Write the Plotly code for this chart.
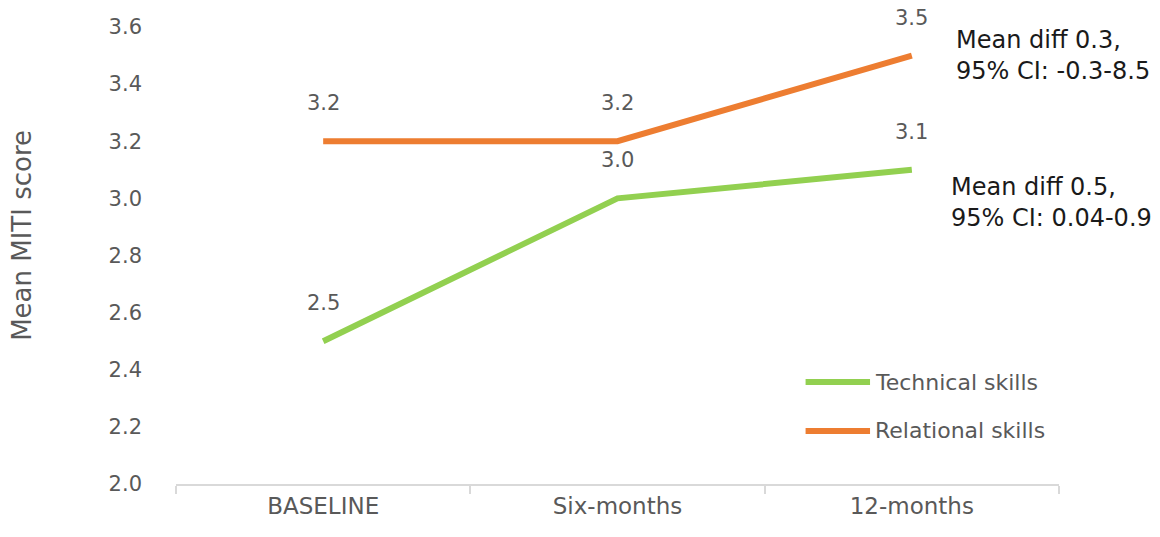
import plotly.graph_objects as go

categories = ["BASELINE", "Six-months", "12-months"]
technical = [2.5, 3.0, 3.1]
relational = [3.2, 3.2, 3.5]
series_names = ["Technical skills", "Relational skills"]
y_ticks = [2.0, 2.2, 2.4, 2.6, 2.8, 3.0, 3.2, 3.4, 3.6]
notes = ["Mean diff 0.3,<br>95% CI: -0.3-8.5", "Mean diff 0.5,<br>95% CI: 0.04-0.9"]
y_title = "Mean MITI score"

GREEN = "#92D050"
ORANGE = "#ED7D31"
GREY = "#595959"
FONT = "DejaVu Sans"

fig = go.Figure()
fig.add_trace(go.Scatter(x=categories, y=technical, mode="lines", name=series_names[0],
                         line=dict(color=GREEN, width=6), showlegend=False))
fig.add_trace(go.Scatter(x=categories, y=relational, mode="lines", name=series_names[1],
                         line=dict(color=ORANGE, width=6), showlegend=False))

annotations = []
for series in (technical, relational):
    for c, v in zip(categories, series):
        annotations.append(dict(x=c, y=v, text=f"{v:.1f}", showarrow=False, yshift=38,
                                font=dict(family=FONT, size=21, color=GREY)))

# Notes next to last points
annotations.append(dict(x=categories[-1], y=relational[-1], text=notes[0], showarrow=False,
                        xanchor="left", yanchor="middle", xshift=42, yshift=0, align="left",
                        font=dict(family=FONT, size=24, color="#1a1a1a")))
annotations.append(dict(x=categories[-1], y=technical[-1], text=notes[1], showarrow=False,
                        xanchor="left", yanchor="middle", xshift=37, yshift=-33, align="left",
                        font=dict(family=FONT, size=24, color="#1a1a1a")))

# Y-axis title
annotations.append(dict(xref="paper", yref="paper", x=-0.1744, y=0.543, text=y_title,
                        textangle=-90, showarrow=False, xanchor="center", yanchor="middle",
                        font=dict(family=FONT, size=26, color=GREY)))

# Custom legend
shapes = []
legend_y = [0.223, 0.116]
for name, color, ly in zip(series_names, [GREEN, ORANGE], legend_y):
    shapes.append(dict(type="line", xref="paper", yref="paper", x0=0.713, x1=0.786, y0=ly, y1=ly,
                       line=dict(color=color, width=6)))
    annotations.append(dict(xref="paper", yref="paper", x=0.789, y=ly, text=name, showarrow=False,
                            xanchor="left", yanchor="middle",
                            font=dict(family=FONT, size=22, color=GREY)))

fig.update_layout(
    width=1160, height=537,
    margin=dict(l=176, r=101, t=27, b=53),
    paper_bgcolor="white", plot_bgcolor="white",
    font=dict(family=FONT, size=21, color=GREY),
    annotations=annotations,
    shapes=shapes,
    showlegend=False,
    xaxis=dict(type="category", range=[-0.5, 2.5], showgrid=False, zeroline=False,
               showline=True, linecolor="#D9D9D9", linewidth=2,
               ticks="outside", tickson="boundaries", ticklen=8, tickcolor="#D9D9D9", tickwidth=2,
               tickfont=dict(family=FONT, size=23, color=GREY)),
    yaxis=dict(range=[2.0, 3.6], tickvals=y_ticks, ticktext=[f"{t:.1f}" for t in y_ticks],
               showgrid=False, zeroline=False, showline=False, ticks="",
               ticklabelstandoff=33,
               tickfont=dict(family=FONT, size=21, color=GREY)),
)

fig.write_html("out.html")
